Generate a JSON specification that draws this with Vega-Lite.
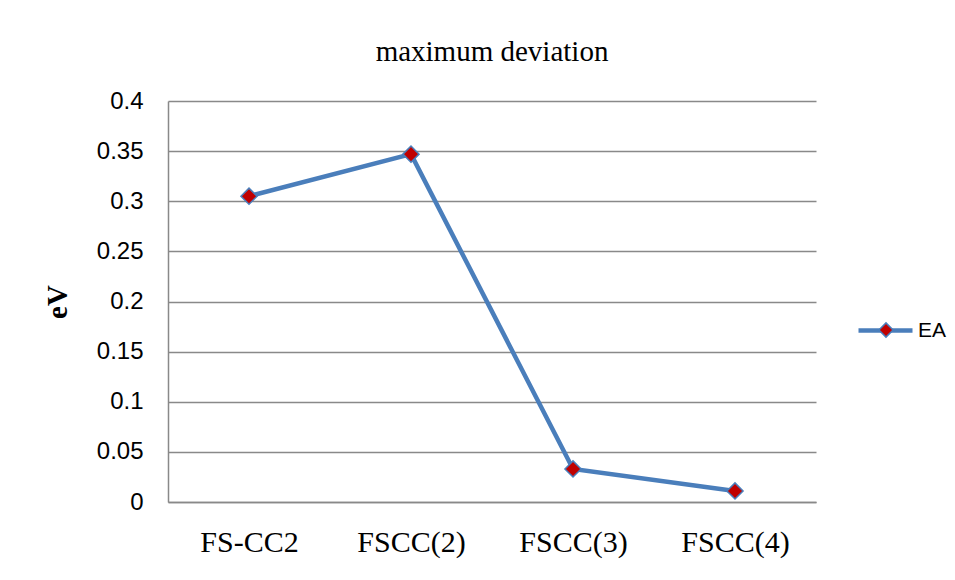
{
  "$schema": "https://vega.github.io/schema/vega-lite/v6.json",
  "width": 648,
  "height": 401,
  "autosize": {"type": "none"},
  "padding": {"left": 168, "top": 101, "right": 139, "bottom": 78},
  "background": "white",
  "title": {
    "text": "maximum deviation",
    "font": "Liberation Serif",
    "fontSize": 29,
    "fontWeight": "normal",
    "color": "black",
    "anchor": "middle",
    "offset": 22
  },
  "data": {
    "values": [
      {"model": "FS-CC2", "dev": 0.305, "series": "EA"},
      {"model": "FSCC(2)", "dev": 0.347, "series": "EA"},
      {"model": "FSCC(3)", "dev": 0.033, "series": "EA"},
      {"model": "FSCC(4)", "dev": 0.011, "series": "EA"}
    ]
  },
  "encoding": {
    "x": {
      "field": "model",
      "type": "nominal",
      "sort": null,
      "axis": {
        "title": null,
        "labelAngle": 0,
        "labelFont": "Liberation Serif",
        "labelFontSize": 30,
        "labelColor": "black",
        "labelPadding": 25,
        "ticks": false,
        "domainColor": "#898989",
        "domainWidth": 1.5,
        "grid": false
      }
    },
    "y": {
      "field": "dev",
      "type": "quantitative",
      "scale": {"domain": [0, 0.4], "nice": false},
      "axis": {
        "title": "eV",
        "titleFont": "Liberation Serif",
        "titleFontSize": 29,
        "titleFontWeight": "bold",
        "titleColor": "black",
        "titlePadding": 24,
        "values": [0, 0.05, 0.1, 0.15, 0.2, 0.25, 0.3, 0.35, 0.4],
        "labelExpr": "datum.value == 0 ? '0' : format(datum.value, '.2~f')",
        "labelFont": "Liberation Sans",
        "labelFontSize": 24,
        "labelColor": "black",
        "labelPadding": 25,
        "ticks": false,
        "domainColor": "#898989",
        "domainWidth": 1.5,
        "grid": true,
        "gridColor": "#898989",
        "gridWidth": 1.5
      }
    }
  },
  "layer": [
    {
      "mark": {"type": "line", "strokeWidth": 4.5},
      "encoding": {
        "color": {
          "field": "series",
          "type": "nominal",
          "scale": {"range": ["#4a7ebb"]},
          "legend": {
            "title": null,
            "orient": "none",
            "legendX": 688,
            "legendY": 200,
            "padding": 0,
            "symbolType": "stroke",
            "symbolSize": 2916,
            "symbolStrokeWidth": 4.5,
            "labelFont": "Liberation Sans",
            "labelFontSize": 21,
            "labelColor": "black",
            "labelOffset": 3
          }
        }
      }
    },
    {
      "mark": {
        "type": "point",
        "shape": "diamond",
        "size": 260,
        "filled": true,
        "stroke": "#4a7ebb",
        "strokeWidth": 1.5,
        "opacity": 1
      },
      "encoding": {
        "fill": {
          "field": "series",
          "type": "nominal",
          "scale": {"range": ["#c00000"]},
          "legend": {
            "title": null,
            "orient": "none",
            "legendX": 710,
            "legendY": 221,
            "padding": 0,
            "symbolType": "diamond",
            "symbolSize": 200,
            "labelExpr": "''",
            "encode": {
              "symbols": {
                "update": {
                  "fill": {"value": "#c00000"},
                  "stroke": {"value": "#4a7ebb"},
                  "strokeWidth": {"value": 1.5},
                  "opacity": {"value": 1}
                }
              }
            }
          }
        }
      }
    }
  ],
  "config": {
    "view": {"stroke": null}
  }
}
